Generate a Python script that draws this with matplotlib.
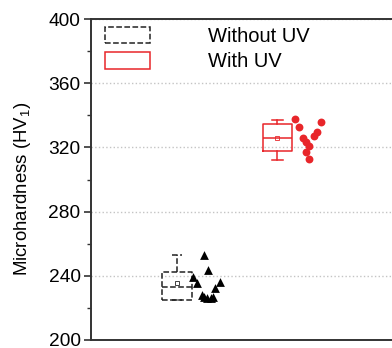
import matplotlib
matplotlib.use("Agg")
import matplotlib.pyplot as plt
from matplotlib.patches import Patch
from matplotlib.ticker import MultipleLocator

plt.rcParams['font.family'] = ['Liberation Sans', 'DejaVu Sans']
plt.rcParams['mathtext.default'] = 'regular'

# hardness readings (HV1)
without_uv = [253.1, 243.8, 239.4, 235.6, 236.0, 232.5, 228.0, 226.5, 226.0, 226.0, 227.0]
with_uv = [337.5, 332.5, 335.6, 329.4, 326.9, 325.6, 323.1, 320.6, 316.9, 312.5]

# horizontal spread of the scatter beside each box
without_dx = [0.27, 0.31, 0.16, 0.20, 0.43, 0.38, 0.25, 0.27, 0.30, 0.34, 0.36]
with_dx = [0.17, 0.21, 0.43, 0.39, 0.36, 0.25, 0.28, 0.31, 0.28, 0.31]

# box statistics: whisker low, q1, median, q3, whisker high, mean
without_stats = dict(whislo=225.0, q1=225.0, med=233.0, q3=242.5, whishi=253.0, mean=235.6)
with_stats = dict(whislo=312.0, q1=317.5, med=325.6, q3=334.4, whishi=337.0, mean=326.0)

labels = ['Without UV', 'With UV']
colors = ['#222222', '#e8262a']
styles = ['--', '-']

fig = plt.figure(figsize=(3.92, 3.48), dpi=100)
ax = fig.add_axes([91 / 392, 8 / 348, 349 / 392, 321 / 348])

groups = [without_stats, with_stats]
for i, (st, c, ls) in enumerate(zip(groups, colors, styles)):
    lp = dict(color=c, linestyle=ls, linewidth=1.1)
    ax.bxp([dict(st, fliers=[])], positions=[i + 1], widths=0.29,
           showmeans=True, showfliers=False, manage_ticks=False,
           boxprops=lp, whiskerprops=lp, capprops=lp, medianprops=lp,
           meanprops=dict(marker='s', markersize=2.5, markerfacecolor='none',
                          markeredgecolor=c, markeredgewidth=0.6),
           capwidths=0.1)

ax.scatter([1 + d for d in without_dx], without_uv, marker='^', s=40,
           color='black', zorder=3, linewidths=0)
ax.scatter([2 + d for d in with_dx], with_uv, marker='o', s=32,
           color=colors[1], zorder=3, linewidths=0)

ax.set_xlim(1 - 86 / 100.5, 1 + 263 / 100.5)
ax.set_ylim(200, 400)
ax.yaxis.set_major_locator(MultipleLocator(40))
ax.yaxis.set_minor_locator(MultipleLocator(20))
ax.tick_params(axis='y', which='major', direction='out', length=5, width=1.2,
               labelsize=13.8, pad=2.5, color='#333333')
ax.tick_params(axis='y', which='minor', direction='out', length=3, width=1.0,
               color='#333333')
ax.set_xticks([])
ax.grid(axis='y', which='major', linestyle=':', color='#c4c4c4', linewidth=1.0)
ax.set_axisbelow(True)

for side in ['left', 'bottom', 'top']:
    ax.spines[side].set_linewidth(1.4)
    ax.spines[side].set_color('#333333')
ax.spines['right'].set_visible(False)

ax.set_ylabel('Microhardness (HV$_1$)', fontsize=13.4)
ax.yaxis.set_label_coords(-58 / 349, 0.472)

handles = [Patch(facecolor='none', edgecolor=c, linestyle=ls, linewidth=1.1)
           for c, ls in zip(colors, styles)]
ax.legend(handles, labels, loc='upper left', bbox_to_anchor=(14 / 349, 1 - 8 / 321),
          frameon=False, fontsize=14.5, borderpad=0, borderaxespad=0,
          handlelength=2.25, handleheight=0.85, handletextpad=2.85,
          labelspacing=0.32)

fig.savefig('out.png', dpi=100)
